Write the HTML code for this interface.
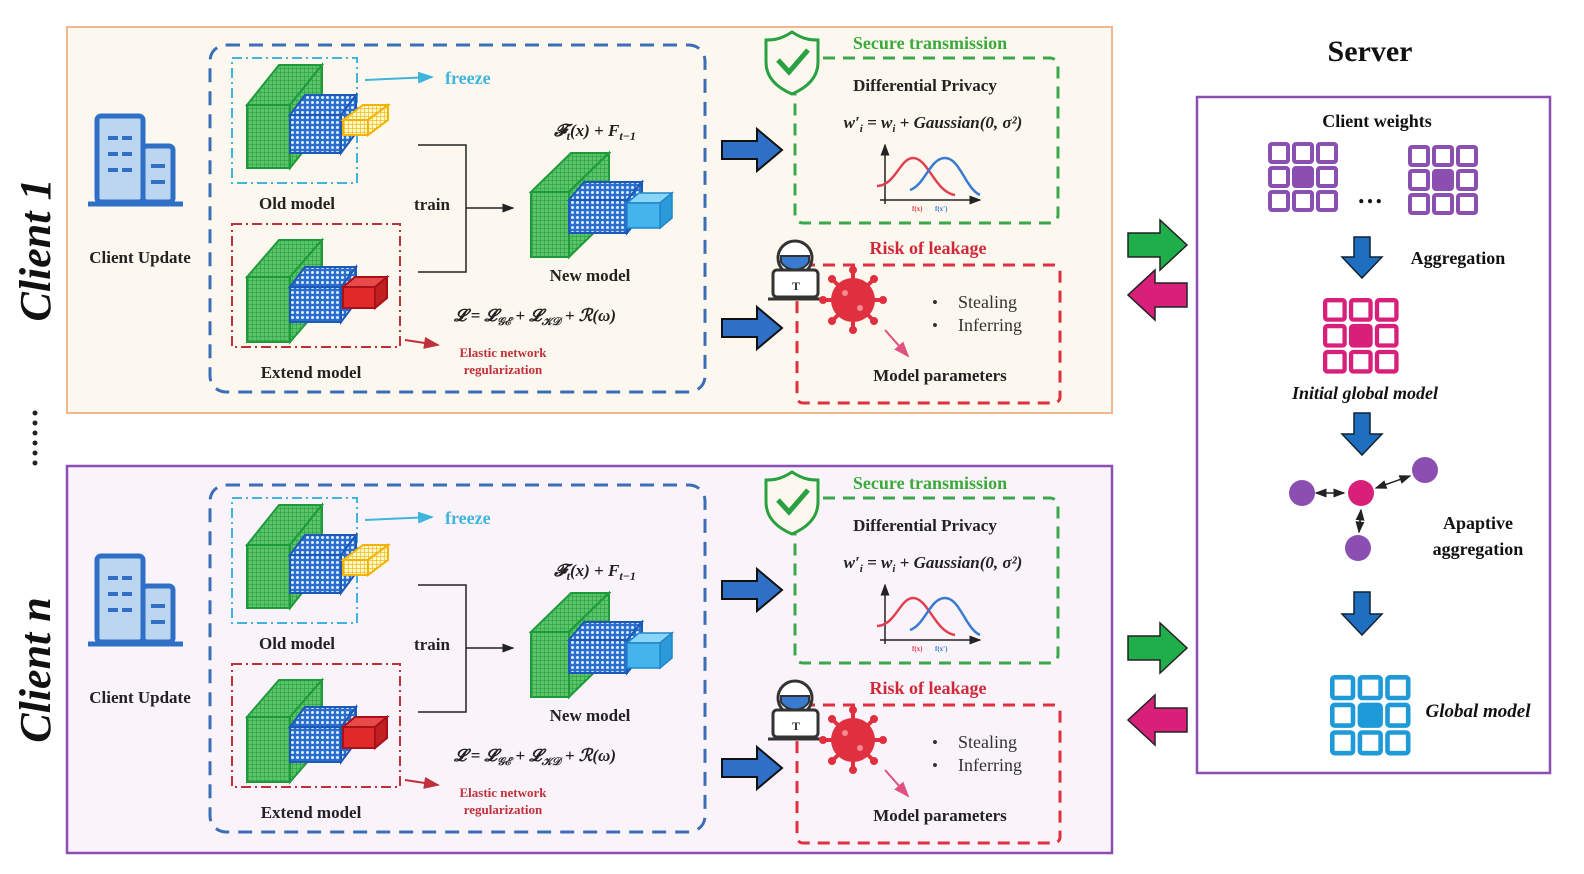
<!DOCTYPE html>
<html><head><meta charset="utf-8"><style>
html,body{margin:0;padding:0;background:#fff}
svg{display:block}
text{font-family:"Liberation Serif",serif;font-weight:bold}
text.n{font-weight:normal}
</style></head><body>
<svg width="1584" height="874" viewBox="0 0 1584 874" xmlns="http://www.w3.org/2000/svg">
<defs>
<pattern id="gg" width="4" height="4" patternUnits="userSpaceOnUse"><rect width="4" height="4" fill="#5cc46a"/><path d="M0 0H4M0 0V4" stroke="#1e9a3a" stroke-width="1"/></pattern>
<pattern id="bd" width="5" height="5" patternUnits="userSpaceOnUse"><rect width="5" height="5" fill="#2a6fd0"/><circle cx="2.5" cy="2.5" r="1.5" fill="#dfefff"/></pattern>
<pattern id="yd" width="4" height="4" patternUnits="userSpaceOnUse"><rect width="4" height="4" fill="#fff6c8"/><path d="M0 0H4M0 0V4" stroke="#f0b400" stroke-width="1.2"/></pattern>
<marker id="ah" markerWidth="8" markerHeight="8" refX="7" refY="4" orient="auto"><path d="M0 1L8 4L0 7z" fill="context-stroke"/></marker>
<marker id="ahk" markerWidth="8" markerHeight="8" refX="7" refY="4" orient="auto"><path d="M0 1L8 4L0 7z" fill="#222"/></marker>
<marker id="ahs" markerWidth="8" markerHeight="8" refX="1" refY="4" orient="auto"><path d="M8 1L0 4L8 7z" fill="#222"/></marker>
<g id="grid">
<rect x="2" y="2" width="18" height="18" rx="2" fill="none" stroke="currentColor" stroke-width="4"/>
<rect x="26" y="2" width="18" height="18" rx="2" fill="none" stroke="currentColor" stroke-width="4"/>
<rect x="50" y="2" width="18" height="18" rx="2" fill="none" stroke="currentColor" stroke-width="4"/>
<rect x="2" y="26" width="18" height="18" rx="2" fill="none" stroke="currentColor" stroke-width="4"/>
<rect x="26" y="26" width="18" height="18" rx="2" fill="currentColor" stroke="currentColor" stroke-width="4"/>
<rect x="50" y="26" width="18" height="18" rx="2" fill="none" stroke="currentColor" stroke-width="4"/>
<rect x="2" y="50" width="18" height="18" rx="2" fill="none" stroke="currentColor" stroke-width="4"/>
<rect x="26" y="50" width="18" height="18" rx="2" fill="none" stroke="currentColor" stroke-width="4"/>
<rect x="50" y="50" width="18" height="18" rx="2" fill="none" stroke="currentColor" stroke-width="4"/>
</g>
<g id="client">
<g fill="#bcd6f2" stroke="#2f6fc6" stroke-width="5">
<rect x="97" y="116" width="46" height="86" rx="4"/>
<rect x="143" y="146" width="30" height="56" rx="4"/>
</g>
<line x1="88" y1="204" x2="183" y2="204" stroke="#2f6fc6" stroke-width="5"/>
<g stroke="#2f6fc6" stroke-width="4">
<line x1="108" y1="138" x2="132" y2="138" stroke-dasharray="10 4"/>
<line x1="108" y1="154" x2="132" y2="154" stroke-dasharray="10 4"/>
<line x1="108" y1="170" x2="132" y2="170" stroke-dasharray="10 4"/>
<line x1="151" y1="166" x2="165" y2="166"/>
<line x1="151" y1="182" x2="165" y2="182"/>
</g>
<text x="140" y="263" font-size="17" text-anchor="middle" fill="#222">Client Update</text>
<rect x="210" y="45" width="495" height="347" rx="16" fill="none" stroke="#3a6fb8" stroke-width="3" stroke-dasharray="14 9"/>
<rect x="232" y="58" width="125" height="125" fill="none" stroke="#3fb5dd" stroke-width="2" stroke-dasharray="10 4 2 4"/>
<rect x="232" y="224" width="168" height="123" fill="none" stroke="#c0303a" stroke-width="2" stroke-dasharray="10 4 2 4"/>
<line x1="365" y1="80" x2="432" y2="77" stroke="#3fb5dd" stroke-width="2" marker-end="url(#ah)"/>
<text x="445" y="84" font-size="18" fill="#3fb5dd">freeze</text>
<g stroke="#1e9a3a" stroke-width="2" fill="url(#gg)">
<polygon points="247,105 279,65 322,65 290,105"/><polygon points="290,105 322,65 322,128 290,168"/><rect x="247" y="105" width="43" height="63"/>
</g>
<g stroke="#1d5ab8" stroke-width="2" fill="url(#bd)">
<polygon points="290,115 305,95 356,95 341,115"/><polygon points="341,115 356,95 356,133 341,153"/><rect x="290" y="115" width="51" height="38"/>
</g>
<g stroke="#f0b400" stroke-width="2" fill="url(#yd)">
<polygon points="343,120 363,105 388,105 368,120"/><polygon points="368,120 388,105 388,120 368,135"/><rect x="343" y="120" width="25" height="15"/>
</g>
<text x="297" y="209" font-size="17" text-anchor="middle" fill="#222">Old model</text>
<g stroke="#1e9a3a" stroke-width="2" fill="url(#gg)">
<polygon points="247,277 279,240 322,240 290,277"/><polygon points="290,277 322,240 322,305 290,342"/><rect x="247" y="277" width="43" height="65"/>
</g>
<g stroke="#1d5ab8" stroke-width="2" fill="url(#bd)">
<polygon points="290,287 305,267 356,267 341,287"/><polygon points="341,287 356,267 356,302 341,322"/><rect x="290" y="287" width="51" height="35"/>
</g>
<g stroke="#a8101a" stroke-width="2">
<polygon points="343,287 355,277 387,277 375,287" fill="#e84a4a"/><polygon points="375,287 387,277 387,298 375,308" fill="#c02020"/><rect x="343" y="287" width="32" height="21" fill="#e02a2a"/>
</g>
<text x="311" y="378" font-size="17" text-anchor="middle" fill="#222">Extend model</text>
<line x1="405" y1="340" x2="438" y2="345" stroke="#c0303a" stroke-width="2" marker-end="url(#ah)"/>
<text x="503" y="357" font-size="13" text-anchor="middle" fill="#c0303a">Elastic network</text>
<text x="503" y="374" font-size="13" text-anchor="middle" fill="#c0303a">regularization</text>
<polyline points="418,145 466,145 466,272 418,272" fill="none" stroke="#222" stroke-width="1.5"/>
<line x1="466" y1="208" x2="513" y2="208" stroke="#222" stroke-width="1.5" marker-end="url(#ahk)"/>
<text x="432" y="210" font-size="17" text-anchor="middle" fill="#222">train</text>
<g stroke="#1e9a3a" stroke-width="2" fill="url(#gg)">
<polygon points="531,192 571,153 609,153 569,192"/><polygon points="569,192 609,153 609,218 569,257"/><rect x="531" y="192" width="38" height="65"/>
</g>
<g stroke="#1d5ab8" stroke-width="2" fill="url(#bd)">
<polygon points="569,200 584,182 642,182 627,200"/><polygon points="627,200 642,182 642,215 627,233"/><rect x="569" y="200" width="58" height="33"/>
</g>
<g stroke="#1e86c8" stroke-width="1.5">
<polygon points="627,203 639,193 672,193 660,203" fill="#8ad4f5"/><polygon points="660,203 672,193 672,218 660,228" fill="#2a9ad8"/><rect x="627" y="203" width="33" height="25" fill="#46b4ec"/>
</g>
<text x="595" y="136" font-size="17" text-anchor="middle" font-style="italic" fill="#222">𝓕<tspan font-size="12" dy="4">t</tspan><tspan dy="-4">(x) + F</tspan><tspan font-size="12" dy="4">t−1</tspan></text>
<text x="590" y="281" font-size="17" text-anchor="middle" fill="#222">New model</text>
<text x="535" y="321" font-size="17" text-anchor="middle" font-style="italic" fill="#222">𝓛 = 𝓛<tspan font-size="11" dy="4">𝒢ℰ</tspan><tspan dy="-4"> + 𝓛</tspan><tspan font-size="11" dy="4">𝒦𝒟</tspan><tspan dy="-4"> + ℛ(ω)</tspan></text>
<polygon points="722,141 757,141 757,129 782,150 757,171 757,159 722,159" fill="#2f6fc6" stroke="#111" stroke-width="2"/>
<polygon points="722,319 757,319 757,307 782,328 757,349 757,337 722,337" fill="#2f6fc6" stroke="#111" stroke-width="2"/>
<rect x="795" y="58" width="263" height="165" rx="8" fill="none" stroke="#3aa84a" stroke-width="3" stroke-dasharray="12 8"/>
<path d="M792 32 C780 40 772 40 766 40 L766 62 C766 78 778 88 792 94 C806 88 818 78 818 62 L818 40 C812 40 804 40 792 32Z" fill="#fdf8ef" stroke="#2aa040" stroke-width="3"/>
<path d="M778 60 L789 72 L808 50" fill="none" stroke="#2aa040" stroke-width="5"/>
<text x="930" y="49" font-size="18" text-anchor="middle" fill="#3aaa3a">Secure transmission</text>
<text x="925" y="91" font-size="17" text-anchor="middle" fill="#222">Differential Privacy</text>
<text x="933" y="128" font-size="17" text-anchor="middle" font-style="italic" fill="#222">w′<tspan font-size="11" dy="4">i</tspan><tspan dy="-4"> = w</tspan><tspan font-size="11" dy="4">i</tspan><tspan dy="-4"> + Gaussian(0, σ²)</tspan></text>
<line x1="880" y1="200" x2="980" y2="200" stroke="#222" stroke-width="1.5" marker-end="url(#ahk)"/>
<line x1="885" y1="204" x2="885" y2="145" stroke="#222" stroke-width="1.5" marker-end="url(#ahk)"/>
<path d="M877 186 C895 186 900 158 913 158 C928 158 935 192 955 195" fill="none" stroke="#e04050" stroke-width="2.5"/>
<path d="M910 190 C925 185 930 158 945 158 C960 158 965 188 980 195" fill="none" stroke="#3a7ad0" stroke-width="2.5"/>
<text x="912" y="211" font-size="7" fill="#e04050">f(x)</text><text x="935" y="211" font-size="7" fill="#3a7ad0">f(x')</text>
<rect x="797" y="265" width="263" height="138" rx="6" fill="none" stroke="#e03040" stroke-width="3" stroke-dasharray="12 8"/>
<text x="928" y="254" font-size="18" text-anchor="middle" fill="#d02a3a">Risk of leakage</text>
<circle cx="795" cy="258" r="17" fill="#fff" stroke="#333" stroke-width="3"/>
<path d="M781 262 C787 272 803 272 809 262 L809 256 L781 256Z" fill="#3a7ad0" stroke="#333" stroke-width="2"/>
<rect x="773" y="270" width="45" height="27" rx="4" fill="#fff" stroke="#333" stroke-width="3"/>
<line x1="768" y1="299" x2="822" y2="299" stroke="#333" stroke-width="3"/>
<text x="796" y="290" font-size="12" text-anchor="middle" fill="#333">T</text>
<g fill="#e03040">
<circle cx="853" cy="300" r="22"/>
<g stroke="#e03040" stroke-width="4">
<line x1="853" y1="270" x2="853" y2="330"/><line x1="823" y1="300" x2="883" y2="300"/>
<line x1="832" y1="279" x2="874" y2="321"/><line x1="874" y1="279" x2="832" y2="321"/>
</g>
<circle cx="853" cy="270" r="4"/><circle cx="853" cy="330" r="4"/><circle cx="823" cy="300" r="4"/><circle cx="883" cy="300" r="4"/>
<circle cx="832" cy="279" r="4"/><circle cx="874" cy="321" r="4"/><circle cx="874" cy="279" r="4"/><circle cx="832" cy="321" r="4"/>
</g>
<circle cx="845" cy="293" r="3" fill="#f58a90"/><circle cx="860" cy="308" r="3" fill="#f58a90"/>
<line x1="885" y1="330" x2="908" y2="356" stroke="#e05080" stroke-width="2" marker-end="url(#ah)"/>
<text class="n" x="932" y="308" font-size="17" fill="#333">•</text>
<text class="n" x="958" y="308" font-size="18" fill="#333">Stealing</text>
<text class="n" x="932" y="331" font-size="17" fill="#333">•</text>
<text class="n" x="958" y="331" font-size="18" fill="#333">Inferring</text>
<text x="940" y="381" font-size="17" text-anchor="middle" fill="#222">Model parameters</text>
</g>
</defs>

<rect x="67" y="27" width="1045" height="386" fill="#fdf8ef" stroke="#f2b890" stroke-width="2"/>
<rect x="67" y="466" width="1045" height="387" fill="#faf4fa" stroke="#8a4fb0" stroke-width="2.5"/>
<use href="#client"/>
<use href="#client" transform="translate(0,440)"/>

<text x="0" y="0" font-size="44" font-style="italic" fill="#111" text-anchor="middle" transform="translate(50,250) rotate(-90)">Client 1</text>
<text x="0" y="0" font-size="44" font-style="italic" fill="#111" text-anchor="middle" transform="translate(50,670) rotate(-90)">Client n</text>
<g fill="#222"><circle cx="35" cy="413" r="2.5"/><circle cx="35" cy="423" r="2.5"/><circle cx="35" cy="433" r="2.5"/><circle cx="35" cy="443" r="2.5"/><circle cx="35" cy="453" r="2.5"/><circle cx="35" cy="463" r="2.5"/></g>

<g stroke="#222" stroke-width="1.5">
<polygon points="1128,233 1160,233 1160,220 1187,245 1160,270 1160,257 1128,257" fill="#1fae4a"/>
<polygon points="1187,283 1155,283 1155,270 1128,295 1155,320 1155,307 1187,307" fill="#d8207a"/>
<polygon points="1128,636 1160,636 1160,623 1187,648 1160,673 1160,660 1128,660" fill="#1fae4a"/>
<polygon points="1187,708 1155,708 1155,695 1128,720 1155,745 1155,732 1187,732" fill="#d8207a"/>
</g>

<text x="1370" y="61" font-size="30" text-anchor="middle" fill="#111">Server</text>
<rect x="1197" y="97" width="353" height="676" fill="#fff" stroke="#8a4fb0" stroke-width="2.5"/>
<text x="1377" y="127" font-size="18" text-anchor="middle" fill="#111">Client weights</text>
<use href="#grid" style="color:#8a4fb0" transform="translate(1268,142)"/>
<use href="#grid" style="color:#8a4fb0" transform="translate(1408,145)"/>
<text x="1370" y="203" font-size="26" text-anchor="middle" fill="#111">…</text>
<g fill="#1f6fc0" stroke="#123" stroke-width="1.5">
<polygon points="1354,237 1370,237 1370,257 1382,257 1362,278 1342,257 1354,257"/>
<polygon points="1354,413 1370,413 1370,434 1382,434 1362,455 1342,434 1354,434"/>
<polygon points="1354,592 1370,592 1370,614 1382,614 1362,635 1342,614 1354,614"/>
</g>
<text x="1458" y="264" font-size="18" text-anchor="middle" fill="#111">Aggregation</text>
<use href="#grid" style="color:#d8207a" transform="translate(1323,298) scale(1.08)"/>
<text x="1365" y="399" font-size="18" text-anchor="middle" font-style="italic" fill="#111">Initial global model</text>
<g stroke="#222" stroke-width="1.5">
<line x1="1316" y1="493" x2="1344" y2="493" marker-start="url(#ahs)" marker-end="url(#ahk)"/>
<line x1="1376" y1="488" x2="1410" y2="476" marker-start="url(#ahs)" marker-end="url(#ahk)"/>
<line x1="1361" y1="510" x2="1359" y2="532" marker-start="url(#ahs)" marker-end="url(#ahk)"/>
</g>
<circle cx="1302" cy="493" r="13" fill="#8a4fb0"/>
<circle cx="1361" cy="493" r="13" fill="#d8207a"/>
<circle cx="1425" cy="470" r="13" fill="#8a4fb0"/>
<circle cx="1358" cy="548" r="13" fill="#8a4fb0"/>
<text x="1478" y="529" font-size="18" text-anchor="middle" fill="#111">Apaptive</text>
<text x="1478" y="555" font-size="18" text-anchor="middle" fill="#111">aggregation</text>
<use href="#grid" style="color:#1e9ad8" transform="translate(1330,675) scale(1.15)"/>
<text x="1478" y="717" font-size="19" text-anchor="middle" font-style="italic" fill="#111">Global model</text>
</svg>
</body></html>
